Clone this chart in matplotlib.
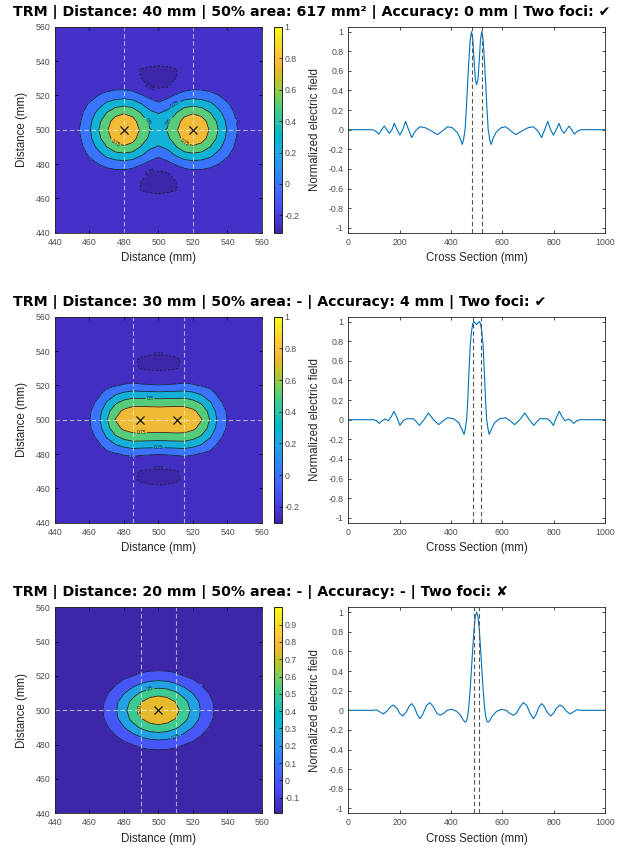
import numpy as np
import matplotlib
matplotlib.use("Agg")
import matplotlib.pyplot as plt
from matplotlib.colors import LinearSegmentedColormap, Normalize
from matplotlib.cm import ScalarMappable
from matplotlib.ticker import FormatStrFormatter

# ---------------------------------------------------------------- data
titles = [
    "TRM | Distance: 40 mm | 50% area: 617 mm\u00b2 | Accuracy: 0 mm | Two foci: \u2714",
    "TRM | Distance: 30 mm | 50% area: - | Accuracy: 4 mm | Two foci: \u2714",
    "TRM | Distance: 20 mm | 50% area: - | Accuracy: - | Two foci: \u2718",
]

# field offsets (mm) from the centre (500, 500); quadrant x>=500, y>=500, symmetric
grid_offsets = [0, 5, 10, 15, 20, 25, 30, 35, 40, 45, 50, 60]

field_40mm = [
    [0.46, 0.51, 0.70, 0.92, 1.00, 0.92, 0.72, 0.48, 0.22, 0.02, -0.09, -0.14],
    [0.38, 0.45, 0.63, 0.84, 0.92, 0.85, 0.66, 0.43, 0.19, 0.00, -0.10, -0.13],
    [0.23, 0.30, 0.48, 0.66, 0.72, 0.66, 0.50, 0.31, 0.12, -0.04, -0.12, -0.12],
    [0.04, 0.12, 0.26, 0.38, 0.42, 0.39, 0.30, 0.15, 0.02, -0.08, -0.14, -0.11],
    [-0.15, -0.07, 0.02, 0.11, 0.14, 0.12, 0.07, 0.00, -0.08, -0.13, -0.15, -0.10],
    [-0.27, -0.255, -0.18, -0.11, -0.07, -0.07, -0.09, -0.12, -0.15, -0.16, -0.15, -0.09],
    [-0.31, -0.29, -0.25, -0.19, -0.15, -0.14, -0.14, -0.15, -0.15, -0.13, -0.11, -0.07],
    [-0.29, -0.28, -0.26, -0.20, -0.15, -0.12, -0.11, -0.11, -0.10, -0.09, -0.08, -0.05],
    [-0.20, -0.19, -0.17, -0.13, -0.10, -0.08, -0.08, -0.07, -0.07, -0.06, -0.06, -0.04],
    [-0.12, -0.12, -0.11, -0.09, -0.07, -0.06, -0.06, -0.06, -0.05, -0.05, -0.05, -0.04],
    [-0.07, -0.07, -0.06, -0.05, -0.04, -0.04, -0.04, -0.04, -0.04, -0.04, -0.04, -0.03],
    [-0.03, -0.03, -0.03, -0.03, -0.03, -0.03, -0.03, -0.03, -0.03, -0.03, -0.03, -0.02],
]

field_30mm = [
    [0.97, 0.99, 1.00, 0.98, 0.90, 0.76, 0.48, 0.18, -0.01, -0.12, -0.15, -0.09],
    [0.86, 0.87, 0.88, 0.87, 0.80, 0.66, 0.41, 0.14, -0.03, -0.12, -0.14, -0.09],
    [0.63, 0.635, 0.64, 0.64, 0.58, 0.46, 0.27, 0.05, -0.08, -0.13, -0.13, -0.08],
    [0.33, 0.34, 0.35, 0.36, 0.31, 0.22, 0.09, -0.05, -0.12, -0.14, -0.12, -0.08],
    [0.01, 0.02, 0.03, 0.05, 0.02, -0.02, -0.06, -0.12, -0.14, -0.13, -0.11, -0.07],
    [-0.18, -0.17, -0.16, -0.13, -0.12, -0.12, -0.12, -0.13, -0.13, -0.12, -0.10, -0.06],
    [-0.28, -0.27, -0.26, -0.22, -0.16, -0.14, -0.12, -0.12, -0.11, -0.10, -0.08, -0.05],
    [-0.30, -0.29, -0.27, -0.23, -0.15, -0.13, -0.11, -0.10, -0.09, -0.08, -0.07, -0.05],
    [-0.22, -0.21, -0.20, -0.15, -0.12, -0.10, -0.09, -0.08, -0.07, -0.07, -0.06, -0.04],
    [-0.13, -0.12, -0.11, -0.10, -0.08, -0.07, -0.07, -0.06, -0.06, -0.05, -0.05, -0.04],
    [-0.07, -0.07, -0.07, -0.06, -0.06, -0.05, -0.05, -0.05, -0.04, -0.04, -0.04, -0.03],
    [-0.04, -0.04, -0.04, -0.04, -0.04, -0.04, -0.03, -0.03, -0.03, -0.03, -0.03, -0.02],
]

field_20mm = [
    [1.00, 0.96, 0.83, 0.64, 0.43, 0.22, 0.05, -0.06, -0.11, -0.12, -0.10, -0.06],
    [0.91, 0.86, 0.74, 0.57, 0.38, 0.19, 0.03, -0.07, -0.11, -0.12, -0.10, -0.06],
    [0.67, 0.64, 0.54, 0.40, 0.24, 0.09, -0.02, -0.09, -0.11, -0.12, -0.09, -0.055],
    [0.375, 0.35, 0.28, 0.18, 0.08, -0.01, -0.08, -0.11, -0.12, -0.11, -0.08, -0.05],
    [0.10, 0.09, 0.05, 0.00, -0.05, -0.09, -0.11, -0.12, -0.10, -0.09, -0.07, -0.04],
    [-0.065, -0.07, -0.08, -0.095, -0.11, -0.12, -0.115, -0.10, -0.09, -0.075, -0.06, -0.03],
    [-0.115, -0.12, -0.12, -0.12, -0.12, -0.115, -0.105, -0.09, -0.08, -0.065, -0.05, -0.03],
    [-0.10, -0.10, -0.10, -0.095, -0.09, -0.085, -0.08, -0.07, -0.06, -0.05, -0.04, -0.03],
    [-0.075, -0.075, -0.07, -0.07, -0.065, -0.06, -0.055, -0.05, -0.05, -0.04, -0.03, -0.02],
    [-0.05, -0.05, -0.05, -0.05, -0.045, -0.045, -0.04, -0.04, -0.035, -0.03, -0.025, -0.02],
    [-0.03, -0.03, -0.03, -0.03, -0.03, -0.03, -0.025, -0.025, -0.02, -0.02, -0.02, -0.015],
    [-0.015, -0.015, -0.015, -0.015, -0.015, -0.015, -0.01, -0.01, -0.01, -0.01, -0.01, -0.01],
]

true_foci = [[480, 520], [485, 515], [490, 510]]
detected_foci = [[480, 520], [489, 511], [500]]
colour_limits = [(-0.31, 1.0), (-0.30, 1.0), (-0.19, 1.0)]
contour_levels = [-0.25, 0.0, 0.25, 0.5, 0.75]
colorbar_ticks = [
    [-0.2, 0, 0.2, 0.4, 0.6, 0.8, 1],
    [-0.2, 0, 0.2, 0.4, 0.6, 0.8, 1],
    [-0.1, 0, 0.1, 0.2, 0.3, 0.4, 0.5, 0.6, 0.7, 0.8, 0.9],
]
map_ticks = [440, 460, 480, 500, 520, 540, 560]
cross_ticks_x = [0, 200, 400, 600, 800, 1000]
cross_ticks_y = [-1, -0.8, -0.6, -0.4, -0.2, 0, 0.2, 0.4, 0.6, 0.8, 1]

cross_x_40mm = [0, 95, 107, 119, 130, 140, 150, 160, 170, 179, 190, 201, 212, 223, 235, 247, 262, 279,
                300, 322, 347, 368, 387, 405, 425, 436, 444, 449, 455, 460, 465, 470, 475, 480, 485,
                490, 495, 500, 505, 510, 515, 520, 525, 530, 535, 540, 545, 551, 556, 564, 575, 595,
                613, 632, 653, 678, 700, 721, 738, 753, 765, 777, 788, 799, 810, 821, 830, 840, 850,
                860, 870, 881, 893, 905, 1000]
cross_v_40mm = [0, 0, -0.015, -0.045, 0, 0.037, 0, -0.037, 0, 0.065, 0, -0.055, 0, 0.085, 0, -0.08,
                -0.01, 0.03, 0.02, -0.01, -0.05, -0.01, 0.03, 0.02, -0.03, -0.09, -0.15, -0.10, 0.0,
                0.22, 0.48, 0.72, 0.92, 1.0, 0.92, 0.70, 0.51, 0.46, 0.51, 0.70, 0.92, 1.0, 0.92,
                0.72, 0.48, 0.22, 0.0, -0.10, -0.15, -0.09, -0.03, 0.02, 0.03, -0.01, -0.05, -0.01,
                0.02, 0.03, -0.01, -0.08, 0, 0.085, 0, -0.055, 0, 0.065, 0, -0.037, 0, 0.037, 0,
                -0.045, -0.015, 0, 0]

cross_x_30mm = [0, 97, 110, 121, 132, 143, 156, 167, 178, 190, 201, 214, 227, 240, 253, 265, 277, 295,
                312, 332, 352, 370, 387, 410, 430, 443, 451, 456, 461, 465, 470, 475, 480, 485, 489,
                495, 500, 505, 511, 515, 520, 525, 530, 535, 539, 544, 549, 557, 570, 590, 613, 630,
                648, 668, 688, 705, 723, 735, 747, 760, 773, 786, 799, 810, 822, 833, 844, 857, 868,
                879, 890, 903, 1000]
cross_v_30mm = [0, 0, -0.01, -0.037, -0.01, 0.007, -0.01, 0.03, 0.085, 0.02, -0.058, -0.01, 0.01, 0.01,
                0.01, -0.02, -0.058, 0.0, 0.068, 0.0, -0.05, -0.01, 0.02, 0.01, -0.03, -0.10, -0.15,
                -0.09, 0.0, 0.18, 0.48, 0.76, 0.90, 0.98, 1.0, 0.985, 0.97, 0.985, 1.0, 0.98, 0.90,
                0.76, 0.48, 0.18, 0.0, -0.09, -0.15, -0.10, -0.03, 0.01, 0.02, -0.01, -0.05, 0.0,
                0.068, 0.0, -0.058, -0.02, 0.01, 0.01, 0.01, -0.01, -0.058, 0.02, 0.085, 0.03, -0.01,
                0.007, -0.01, -0.037, -0.01, 0, 0]

cross_x_20mm = [0, 97, 110, 122, 136, 150, 162, 175, 190, 200, 212, 225, 237, 247, 258, 268, 279, 290,
                305, 318, 330, 345, 357, 372, 385, 403, 422, 437, 448, 455, 460, 465, 470, 475, 480,
                485, 490, 495, 500, 505, 510, 515, 520, 525, 530, 535, 540, 545, 552, 563, 578, 597,
                615, 628, 643, 655, 670, 682, 695, 710, 721, 732, 742, 753, 763, 775, 788, 800, 810,
                825, 838, 850, 864, 878, 890, 903, 1000]
cross_v_20mm = [0, 0, 0.005, -0.015, -0.037, -0.01, 0.03, 0.054, 0.02, -0.03, -0.058, -0.02, 0.04,
                0.068, 0.03, -0.04, -0.085, -0.04, 0.05, 0.078, 0.04, -0.03, -0.05, -0.03, 0.0, 0.01,
                -0.01, -0.05, -0.10, -0.12, -0.11, -0.06, 0.05, 0.22, 0.43, 0.64, 0.83, 0.96, 1.0,
                0.96, 0.83, 0.64, 0.43, 0.22, 0.05, -0.06, -0.11, -0.12, -0.10, -0.05, -0.01, 0.01,
                0.0, -0.03, -0.05, -0.03, 0.04, 0.078, 0.05, -0.04, -0.085, -0.04, 0.03, 0.068, 0.04,
                -0.02, -0.058, -0.03, 0.02, 0.054, 0.03, -0.01, -0.037, -0.015, 0.005, 0, 0]

fields = [field_40mm, field_30mm, field_20mm]
cross_x = [cross_x_40mm, cross_x_30mm, cross_x_20mm]
cross_v = [cross_v_40mm, cross_v_30mm, cross_v_20mm]

# ---------------------------------------------------------------- style
parula_rgb = [
    (0.2422, 0.1504, 0.6603), (0.2504, 0.1650, 0.7076), (0.2578, 0.1818, 0.7511),
    (0.2647, 0.1978, 0.7952), (0.2706, 0.2147, 0.8364), (0.2751, 0.2342, 0.8710),
    (0.2783, 0.2559, 0.8991), (0.2803, 0.2782, 0.9221), (0.2813, 0.3006, 0.9414),
    (0.2810, 0.3228, 0.9579), (0.2795, 0.3447, 0.9717), (0.2760, 0.3667, 0.9829),
    (0.2699, 0.3892, 0.9906), (0.2602, 0.4123, 0.9952), (0.2440, 0.4358, 0.9988),
    (0.2206, 0.4603, 0.9973), (0.1963, 0.4847, 0.9892), (0.1834, 0.5074, 0.9798),
    (0.1786, 0.5289, 0.9682), (0.1764, 0.5499, 0.9520), (0.1687, 0.5703, 0.9359),
    (0.1540, 0.5902, 0.9218), (0.1460, 0.6091, 0.9079), (0.1380, 0.6276, 0.8973),
    (0.1248, 0.6459, 0.8883), (0.1113, 0.6635, 0.8763), (0.0952, 0.6798, 0.8598),
    (0.0689, 0.6948, 0.8394), (0.0297, 0.7082, 0.8163), (0.0036, 0.7203, 0.7917),
    (0.0067, 0.7312, 0.7660), (0.0433, 0.7411, 0.7394), (0.0964, 0.7500, 0.7120),
    (0.1408, 0.7584, 0.6842), (0.1717, 0.7670, 0.6554), (0.1938, 0.7758, 0.6251),
    (0.2161, 0.7843, 0.5923), (0.2470, 0.7918, 0.5567), (0.2906, 0.7973, 0.5188),
    (0.3406, 0.8008, 0.4789), (0.3909, 0.8029, 0.4354), (0.4456, 0.8024, 0.3909),
    (0.5044, 0.7993, 0.3480), (0.5616, 0.7942, 0.3045), (0.6174, 0.7876, 0.2612),
    (0.6720, 0.7793, 0.2227), (0.7242, 0.7698, 0.1910), (0.7738, 0.7598, 0.1646),
    (0.8203, 0.7498, 0.1535), (0.8634, 0.7406, 0.1596), (0.9035, 0.7330, 0.1774),
    (0.9393, 0.7288, 0.2100), (0.9728, 0.7298, 0.2394), (0.9956, 0.7434, 0.2371),
    (0.9970, 0.7659, 0.2199), (0.9952, 0.7893, 0.2028), (0.9892, 0.8136, 0.1885),
    (0.9786, 0.8386, 0.1766), (0.9676, 0.8639, 0.1643), (0.9610, 0.8890, 0.1537),
    (0.9597, 0.9135, 0.1423), (0.9628, 0.9373, 0.1265), (0.9691, 0.9606, 0.1064),
    (0.9769, 0.9839, 0.0805),
]
parula = LinearSegmentedColormap.from_list("parula", parula_rgb, N=256)

plt.rcParams["font.family"] = ["Liberation Sans", "DejaVu Sans"]
TXT = "#262626"
TICK = "#4d4d4d"

W, H = 619, 847
fig = plt.figure(figsize=(W / 100, H / 100), dpi=100)


def fig_rect(left, top, right, bottom):
    return [left / W, 1 - bottom / H, (right - left) / W, (bottom - top) / H]


row_tops = [26.7, 316.7, 607.3]
row_h = 206.0
title_y = [12.0, 302.0, 592.0]


def mirror(q, offs):
    q = np.asarray(q, dtype=float)
    offs = np.asarray(offs, dtype=float)
    coords = np.concatenate([500 - offs[::-1], 500 + offs[1:]])
    half = np.concatenate([q[:, ::-1], q[:, 1:]], axis=1)
    full = np.concatenate([half[::-1], half[1:]], axis=0)
    return coords, full


def style_axes(ax):
    for s in ax.spines.values():
        s.set_linewidth(0.6)
        s.set_color("#222222")
    ax.tick_params(direction="in", top=True, right=True, length=2.5, width=0.5,
                   labelsize=6.3, labelcolor=TICK, pad=3.5)


for i in range(3):
    top = row_tops[i]
    bot = top + row_h
    fig.text(13 / W, 1 - title_y[i] / H, titles[i], fontsize=10.2,
             fontweight="bold", family=["DejaVu Sans"],
             ha="left", va="center", color="black")

    # ---------------- contour map
    ax = fig.add_axes(fig_rect(55, top, 262, bot))
    coords, Z = mirror(fields[i], grid_offsets)
    vmin, vmax = colour_limits[i]
    norm = Normalize(vmin, vmax)
    fill_levels = [-10] + contour_levels + [10]
    band_colours = [parula(norm(max(lo, vmin))) for lo in fill_levels[:-1]]
    ax.contourf(coords, coords, Z, levels=fill_levels, colors=band_colours)
    present = [lv for lv in contour_levels if Z.min() < lv < Z.max()]
    cs = ax.contour(coords, coords, Z, levels=present, colors="#1a1a2a", linewidths=0.55)
    ax.clabel(cs, inline=True, fontsize=3.5, fmt=lambda v: f"{v:g}", colors="#1a1a2a",
              inline_spacing=1)
    dash_kw = dict(color="white", alpha=0.6, lw=0.8, ls=(0, (4, 2.5)))
    ax.axhline(500, **dash_kw)
    for fx in true_foci[i]:
        ax.axvline(fx, **dash_kw)
    ax.plot(detected_foci[i], [500] * len(detected_foci[i]), "x", color="black",
            ms=5.5, mew=0.8)
    ax.set_xlim(440, 560)
    ax.set_ylim(440, 560)
    ax.set_xticks(map_ticks)
    ax.set_yticks(map_ticks)
    style_axes(ax)
    ax.set_xlabel("Distance (mm)", fontsize=8.3, color=TXT, labelpad=4)
    ax.set_ylabel("Distance (mm)", fontsize=8.3, color=TXT, labelpad=5.5)

    cax = fig.add_axes(fig_rect(274, top, 281.7, bot))
    sm = ScalarMappable(norm=norm, cmap=parula)
    cb = fig.colorbar(sm, cax=cax, ticks=colorbar_ticks[i])
    cb.ax.yaxis.set_major_formatter(FormatStrFormatter("%g"))
    cb.outline.set_linewidth(0.6)
    cb.ax.tick_params(direction="in", length=2, width=0.5, labelsize=6.3,
                      labelcolor=TICK, pad=2)

    # ---------------- cross section
    ax2 = fig.add_axes(fig_rect(348.3, top, 605, bot))
    ax2.plot(cross_x[i], cross_v[i], color="#0072BD", lw=0.8)
    for fx in true_foci[i]:
        ax2.axvline(fx, color="#555555", lw=0.8, ls=(0, (4, 2.5)))
    ax2.set_xlim(0, 1000)
    ax2.set_ylim(-1.05, 1.05)
    ax2.set_xticks(cross_ticks_x)
    ax2.set_yticks(cross_ticks_y)
    ax2.yaxis.set_major_formatter(FormatStrFormatter("%g"))
    style_axes(ax2)
    ax2.set_xlabel("Cross Section (mm)", fontsize=8.3, color=TXT, labelpad=4)
    ax2.set_ylabel("Normalized electric field", fontsize=8.3, color=TXT, labelpad=5.5)

fig.savefig("out.png", dpi=100)
